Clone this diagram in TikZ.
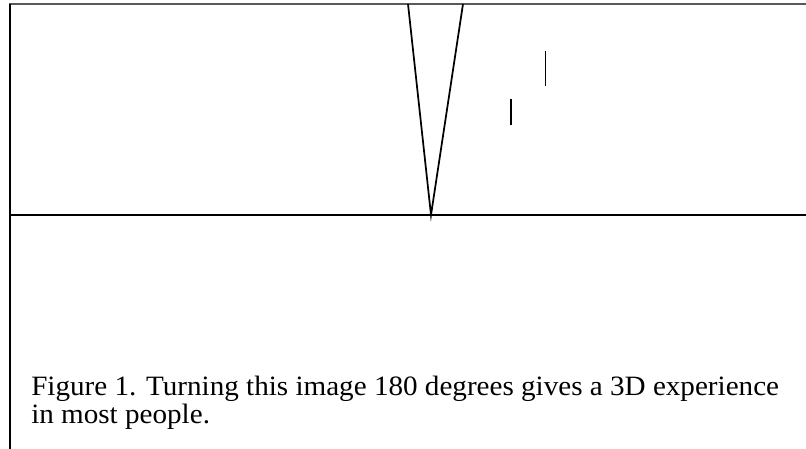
\documentclass[tikz,border=0pt]{standalone}
\usepackage{fontspec}
\setmainfont{Liberation Serif}[FakeStretch=1.04]
\begin{document}
\begin{tikzpicture}[x=0.75pt,y=-0.75pt]
\useasboundingbox (0,0) rectangle (806,449);

% frame of the page
\draw[line width=1.5pt,black!65] (9,4) -- (806,4);
\draw[line width=1.5pt] (10,4) -- (10,449);
\draw[line width=1.5pt] (10,215) -- (806,215);

% the V
\coordinate (vleft) at (408,4);
\coordinate (vright) at (463,4);
\coordinate (vtip) at (431,215);
\draw[line width=1.3pt] (vleft) -- (vtip) -- (vright);

% two short strokes
\draw[line width=1.3pt] (545.5,51) -- (545.5,86);
\draw[line width=1.3pt] (511,99) -- (511,125);

\node[anchor=base west,inner sep=0pt,align=left,
  font=\fontsize{21}{21}\selectfont] (caption) at (31,423)
  {Figure 1. Turning this image 180 degrees gives a 3D experience\\
   in most people.};
\end{tikzpicture}
\end{document}
